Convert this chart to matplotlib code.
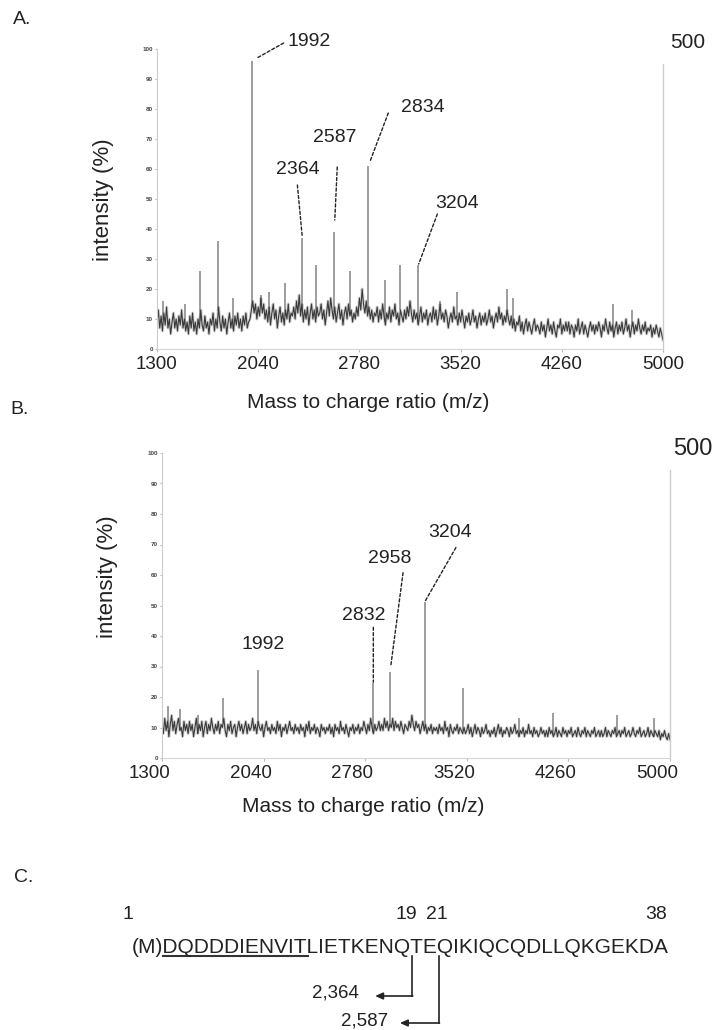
import numpy as np
import matplotlib
matplotlib.use('Agg')
import matplotlib.pyplot as plt
from matplotlib.transforms import ScaledTranslation

plt.rcParams['font.family'] = ['Liberation Sans', 'DejaVu Sans']

# ---- data ----
mz_start = 1300
mz_step = 10

# spectrum A: baseline noise read every 10 m/z (intensity %)
base_a = [9, 13, 7, 11, 6, 12, 8, 14, 7, 10, 5, 9, 12, 7, 10, 6, 11, 8, 13, 7,
          10, 6, 9, 5, 11, 7, 12, 6, 9, 5, 10, 7, 13, 8, 6, 11, 7, 9, 5, 10,
          8, 12, 6, 10, 7, 14, 9, 6, 11, 7, 10, 5, 9, 12, 7, 10, 6, 11, 8, 12,
          7, 10, 6, 11, 8, 12, 7, 9, 10, 13, 16, 12, 15, 10, 14, 11, 17, 12, 15, 10,
          13, 9, 14, 8, 12, 15, 10, 13, 7, 11, 14, 9, 12, 8, 13, 10, 15, 9, 12, 11,
          14, 10, 16, 12, 18, 11, 15, 9, 13, 10, 14, 8, 12, 15, 10, 13, 9, 14, 11, 12,
          15, 10, 13, 8, 12, 16, 11, 17, 13, 10, 14, 9, 12, 15, 10, 13, 8, 12, 14, 10,
          15, 11, 13, 9, 12, 10, 14, 11, 17, 13, 20, 15, 12, 16, 11, 14, 10, 13, 9, 12,
          11, 14, 9, 13, 10, 15, 11, 8, 12, 10, 14, 9, 13, 11, 15, 10, 12, 8, 13, 11,
          9, 13, 10, 14, 11, 16, 12, 9, 13, 10, 12, 8, 11, 14, 9, 12, 10, 13, 8, 11,
          12, 9, 14, 10, 13, 8, 11, 15, 10, 12, 9, 13, 11, 7, 10, 12, 9, 14, 10, 11,
          8, 12, 9, 13, 10, 7, 11, 9, 12, 8, 10, 13, 9, 11, 7, 10, 12, 8, 11, 9,
          12, 8, 10, 13, 9, 11, 7, 10, 12, 9, 14, 10, 12, 8, 11, 9, 13, 10, 8, 11,
          7, 10, 6, 9, 8, 11, 6, 9, 5, 8, 10, 6, 9, 7, 5, 8, 10, 6, 8, 7,
          5, 9, 6, 8, 4, 7, 10, 6, 8, 5, 9, 6, 4, 8, 7, 10, 5, 8, 6, 9,
          6, 9, 5, 8, 7, 4, 8, 6, 10, 5, 7, 9, 5, 8, 6, 4, 7, 9, 6, 8,
          5, 8, 6, 9, 7, 4, 8, 6, 10, 7, 5, 9, 6, 8, 4, 7, 9, 5, 8, 6,
          9, 5, 7, 10, 6, 8, 4, 7, 9, 5, 8, 6, 10, 7, 5, 8, 6, 9, 5, 7,
          6, 8, 4, 7, 5, 8, 6, 4, 7, 5, 3]
peak_a_mz = [1346, 1505, 1614, 1748, 1858, 1992, 2058, 2121, 2236, 2363,
             2463, 2596, 2711, 2845, 2965, 3080, 3211, 3369, 3491, 3857,
             3903, 4636, 4771]
peak_a_int = [16, 15, 26, 36, 17, 96, 18, 19, 22, 37,
              28, 39, 26, 61, 23, 28, 28, 16, 19, 20,
              17, 15, 13]
label_a_text = ['1992', '2364', '2587', '2834', '3204']
label_a_mz = [1992, 2363, 2596, 2845, 3211]
label_a_int = [96, 37, 39, 61, 28]

# spectrum B
base_b = [11, 8, 13, 9, 12, 7, 11, 14, 9, 12, 8, 11, 13, 9, 10, 7, 12, 9, 11, 8,
          12, 9, 11, 7, 10, 13, 8, 11, 9, 12, 7, 10, 12, 8, 11, 9, 13, 10, 8, 11,
          9, 12, 8, 11, 10, 13, 9, 7, 11, 9, 12, 8, 10, 11, 7, 10, 12, 9, 11, 8,
          10, 12, 8, 11, 9, 10, 13, 9, 11, 8, 12, 10, 9, 11, 7, 10, 12, 9, 10, 8,
          11, 9, 10, 8, 12, 9, 11, 7, 10, 9, 11, 8, 10, 12, 9, 10, 8, 11, 9, 10,
          8, 11, 9, 10, 7, 11, 9, 12, 8, 10, 9, 11, 8, 10, 9, 7, 11, 9, 10, 8,
          10, 9, 11, 8, 10, 7, 11, 9, 10, 8, 12, 9, 10, 8, 11, 9, 7, 10, 9, 11,
          8, 10, 9, 11, 8, 10, 9, 12, 10, 8, 11, 9, 13, 10, 8, 11, 9, 10, 12, 9,
          11, 9, 13, 10, 12, 9, 11, 10, 13, 9, 12, 10, 11, 9, 12, 10, 8, 11, 10, 9,
          12, 10, 14, 11, 9, 12, 10, 11, 8, 10, 12, 9, 11, 8, 10, 9, 11, 8, 10, 9,
          10, 8, 11, 9, 10, 8, 12, 9, 10, 7, 11, 9, 8, 10, 9, 11, 8, 10, 9, 8,
          10, 8, 9, 11, 8, 10, 7, 9, 11, 8, 10, 9, 7, 10, 8, 9, 11, 8, 9, 7,
          9, 8, 10, 7, 9, 11, 8, 10, 7, 9, 8, 10, 9, 7, 10, 8, 9, 11, 8, 9,
          7, 9, 8, 10, 7, 9, 8, 11, 8, 9, 7, 10, 8, 9, 7, 8, 10, 8, 9, 7,
          9, 7, 10, 8, 9, 7, 8, 10, 7, 9, 8, 7, 10, 8, 9, 7, 9, 8, 10, 7,
          8, 9, 7, 10, 8, 7, 9, 8, 10, 7, 9, 8, 7, 9, 8, 10, 7, 8, 9, 7,
          9, 7, 8, 10, 7, 9, 8, 7, 9, 8, 10, 7, 8, 9, 7, 9, 8, 10, 7, 8,
          9, 7, 8, 10, 8, 7, 9, 8, 10, 7, 8, 9, 7, 8, 10, 7, 9, 8, 7, 9,
          8, 7, 9, 6, 8, 7, 9, 7, 6, 8, 6]
peak_b_mz = [1344, 1431, 1560, 1746, 1999, 2839, 2961, 3215, 3494, 3900,
             4148, 4614, 4880]
peak_b_int = [17, 16, 14, 19.6, 28.9, 24.5, 28.3, 51.3, 23, 13,
              14.7, 14, 13]
label_b_text = ['1992', '2832', '2958', '3204']
label_b_mz = [1999, 2839, 2961, 3215]
label_b_int = [28.9, 24.5, 28.3, 51.3]

xticks = [1300, 2040, 2780, 3520, 4260, 5000]
yticks = [0, 10, 20, 30, 40, 50, 60, 70, 80, 90, 100]

sequence = '(M)DQDDDIENVITLIETKENQTEQIKIQCQDLLQKGEKDA'
underlined = (1, 11)          # residues DQDDDIENVIT
cut_residues = [19, 21]
cut_masses = ['2,364', '2,587']

# ---- layout (pixels, label offsets relative to peak tip, y up) ----
W, H = 715, 1030
# text dx, dy, line-top dx, dy, gap at peak
lay_a = [(57, 19, 32, 18, 6), (-5, 68, -5, 53, 1), (1, 95, 3, 65, 12),
         (55, 59, 20, 53, 6), (39, 61, 19, 51, 1)]
lay_b = [(5, 25, None, None, 0), (-10, 68, 0, 56, 1), (0, 113, 13, 99, 5),
         (25, 69, 31, 54, 0)]

fig = plt.figure(figsize=(W / 100, H / 100), dpi=100)
ov = fig.add_axes([0, 0, 1, 1])
ov.set_xlim(0, W)
ov.set_ylim(H, 0)
ov.axis('off')

ax_a = fig.add_axes([157 / W, 1 - 349 / H, 506 / W, 300 / H])
ax_b = fig.add_axes([162 / W, 1 - 758 / H, 508 / W, 305 / H])


def draw_spectrum(ax, base, pk_mz, pk_int):
    mz = mz_start + mz_step * np.arange(len(base))
    foot = np.interp(pk_mz, mz, base)
    ax.vlines(pk_mz, foot, pk_int, color='#8c8c8c', lw=1.2)
    ax.plot(mz, base, color='#8a8a8a', lw=2.2, alpha=0.35)
    ax.plot(mz, base, color='#3a3a3a', lw=0.8)


def style(ax, top):
    ax.set_xlim(1300, 5000)
    ax.set_ylim(0, 100)
    ax.spines['top'].set_visible(False)
    ax.spines['right'].set_visible(False)
    ax.spines['left'].set_color('#cccccc')
    ax.spines['bottom'].set_color('#d4d4d4')
    ax.set_xticks(xticks)
    ax.set_xticklabels([str(t) for t in xticks], fontsize=13.5, color='#222222')
    ax.set_yticks(yticks)
    ax.set_yticklabels([str(t) for t in yticks], fontsize=4.5, color='#444444',
                       fontweight='bold')
    ax.tick_params(axis='x', length=2, color='#bbbbbb', pad=3)
    ax.tick_params(axis='y', length=1.5, color='#bbbbbb', pad=1.5)
    ax.axvline(5000, ymax=top, color='#cccccc', lw=1, clip_on=False)
    ax.patch.set_alpha(0)


def label_peaks(ax, texts, mzs, ints, lay):
    for t, m, v, (tx, ty, lx, ly, gap) in zip(texts, mzs, ints, lay):
        ax.annotate(t, xy=(m, v), xytext=(tx * 0.72, ty * 0.72),
                    textcoords='offset points', ha='center', va='center',
                    fontsize=14, color='#222222', annotation_clip=False)
        if lx is not None:
            ax.annotate('', xy=(m, v), xytext=(lx * 0.72, ly * 0.72),
                        textcoords='offset points', annotation_clip=False,
                        arrowprops=dict(arrowstyle='-', color='#222222', lw=1,
                                        linestyle=(0, (2.2, 1.6)),
                                        shrinkA=0, shrinkB=gap * 0.72))


draw_spectrum(ax_a, base_a, peak_a_mz, peak_a_int)
style(ax_a, 0.95)
label_peaks(ax_a, label_a_text, label_a_mz, label_a_int, lay_a)

draw_spectrum(ax_b, base_b, peak_b_mz, peak_b_int)
style(ax_b, 0.944)
label_peaks(ax_b, label_b_text, label_b_mz, label_b_int, lay_b)
shift = ScaledTranslation(-13 / 100, 0, fig.dpi_scale_trans)
for lab in ax_b.get_xticklabels():
    lab.set_transform(lab.get_transform() + shift)

# free text
tc = '#222222'
ov.text(22, 20, 'A.', fontsize=14, ha='center', va='center', color=tc)
ov.text(20, 409, 'B.', fontsize=14, ha='center', va='center', color=tc)
ov.text(24, 878, 'C.', fontsize=14, ha='center', va='center', color=tc)
ov.text(670, 42, '500', fontsize=15, ha='left', va='center', color=tc)
ov.text(673, 449, '500', fontsize=17, ha='left', va='center', color=tc)
ov.text(104, 200, 'intensity (%)', fontsize=16, rotation=90, ha='center', va='center', color=tc)
ov.text(108, 577, 'intensity (%)', fontsize=16, rotation=90, ha='center', va='center', color=tc)
ov.text(368, 403, 'Mass to charge ratio (m/z)', fontsize=15, ha='center', va='center', color=tc)
ov.text(363, 807, 'Mass to charge ratio (m/z)', fontsize=15, ha='center', va='center', color=tc)

# ---- panel C ----
rend = fig.canvas.get_renderer()


def width(s, fs):
    if not s:
        return 0.0
    t = ov.text(0, 0, s, fontsize=fs)
    w = t.get_window_extent(renderer=rend).width
    t.remove()
    return w


x0, x1, base_y = 132, 670, 953
fs_seq = 14 * (x1 - x0) / width(sequence, 14)
ov.text(x0, base_y, sequence, fontsize=fs_seq, ha='left', va='baseline', color=tc)


def edges(i):
    left = x0 + width(sequence[:i], fs_seq)
    right = x0 + width(sequence[:i + 1], fs_seq)
    return left, right


off = 2  # residue n sits at sequence[2 + n]
ul_l = edges(off + underlined[0])[0]
ul_r = edges(off + underlined[1])[1]
ov.plot([ul_l, ul_r], [base_y + 3, base_y + 3], color='#333333', lw=1.5)

num_y = 919
ov.text(x0 - 4, num_y, '1', fontsize=14, ha='center', va='baseline', color=tc)
ov.text(x1 - 3, num_y, '38', fontsize=14, ha='right', va='baseline', color=tc)
l19, r19 = edges(off + cut_residues[0])
l21, r21 = edges(off + cut_residues[1])
ov.text((l19 + r19) / 2 + 3, num_y, str(cut_residues[0]), fontsize=14, ha='center',
        va='baseline', color=tc)
ov.text((l21 + r21) / 2 + 6, num_y, str(cut_residues[1]), fontsize=14, ha='center',
        va='baseline', color=tc)

arrow_rows = [(996, 37, 16), (1023, 39, 12)]
for (lx_edge, mass, (yy, reach, gap)) in zip([r19, r21], cut_masses, arrow_rows):
    xl = lx_edge + 1
    ov.plot([xl, xl], [base_y + 3, yy], color='#222222', lw=1.2)
    ov.annotate('', xy=(xl - reach, yy), xytext=(xl + 0.6, yy),
                arrowprops=dict(arrowstyle='-|>,head_length=0.45,head_width=0.2',
                                color='#222222', lw=1.2, shrinkA=0, shrinkB=0))
    ov.text(xl - reach - gap, yy + 2, mass, fontsize=13.5, ha='right',
            va='baseline', color=tc)

fig.savefig('out.png', dpi=100)
